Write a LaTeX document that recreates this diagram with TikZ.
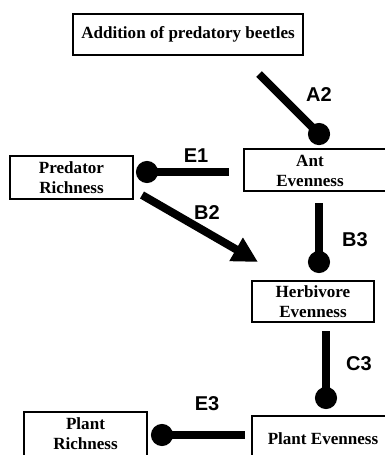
\documentclass[tikz,border=0pt]{standalone}
\usepackage{fontspec}
\setmainfont{Liberation Serif}
\newfontfamily\tagfont{Liberation Sans}
\usetikzlibrary{arrows.meta}

\begin{document}
\begin{tikzpicture}[x=0.75pt,y=-0.75pt]
  \tikzset{
    box/.style={draw, line width=0.8pt, inner sep=0pt, align=center,
      font=\fontsize{12.8}{15}\selectfont\bfseries},
    boxtext/.style={inner sep=0pt, align=center,
      font=\fontsize{12.8}{15}\selectfont\bfseries},
    link/.style={line width=6pt},
    blunt/.style={link, -{Circle[length=16.5pt]}},
    push/.style={link, -{Triangle[length=19pt,width=19pt]}},
    tag/.style={inner sep=0pt, font=\tagfont\fontsize{15}{17}\selectfont\bfseries},
  }
  \useasboundingbox (0,0) rectangle (385,455);
  \clip (0,0) rectangle (385,455);

  % boxes
  \node[box, minimum width=172.5pt, minimum height=30.75pt] (beetles) at (188,34.5)
    {Addition of predatory beetles};
  \node[box, minimum width=92.25pt, minimum height=32.25pt] (predrich) at (71.5,177.5)
    {Predator\\Richness};
  \node[box, minimum width=111pt, minimum height=31.5pt] (antbox) at (318,170) {};
  \node[boxtext] (ant) at (310,171) {Ant\\Evenness};
  \node[box, minimum width=91.5pt, minimum height=30.75pt] (herb) at (313,301.5)
    {Herbivore\\Evenness};
  \node[box, minimum width=92.25pt, minimum height=33pt] (plantrich) at (85.5,434)
    {Plant\\Richness};
  \node[box, minimum width=111pt, minimum height=34.5pt] (plantevenbox) at (326,439) {};
  \node[boxtext] (planteven) at (323,439) {Plant Evenness};

  % connector ends
  \coordinate (a2 start) at (259,74);
  \coordinate (a2 end) at (326.8,141.8);
  \coordinate (e1 start) at (229,172);
  \coordinate (e1 end) at (136,172);
  \coordinate (b2 start) at (142,195);
  \coordinate (b2 end) at (258,262);
  \coordinate (b3 start) at (319,203);
  \coordinate (b3 end) at (319,273);
  \coordinate (c3 start) at (326,331);
  \coordinate (c3 end) at (326,409);
  \coordinate (e3 start) at (245,435);
  \coordinate (e3 end) at (151,435);

  \draw[blunt] (a2 start) -- (a2 end);
  \draw[blunt] (e1 start) -- (e1 end);
  \draw[push] (b2 start) -- (b2 end);
  \draw[blunt] (b3 start) -- (b3 end);
  \draw[blunt] (c3 start) -- (c3 end);
  \draw[blunt] (e3 start) -- (e3 end);

  % path labels
  \node[tag] (a2) at (319,95) {A2};
  \node[tag] (e1) at (196,156) {E1};
  \node[tag] (b2) at (207,213) {B2};
  \node[tag] (b3) at (355,240) {B3};
  \node[tag] (c3) at (359,364) {C3};
  \node[tag] (e3) at (207,404) {E3};
\end{tikzpicture}
\end{document}
